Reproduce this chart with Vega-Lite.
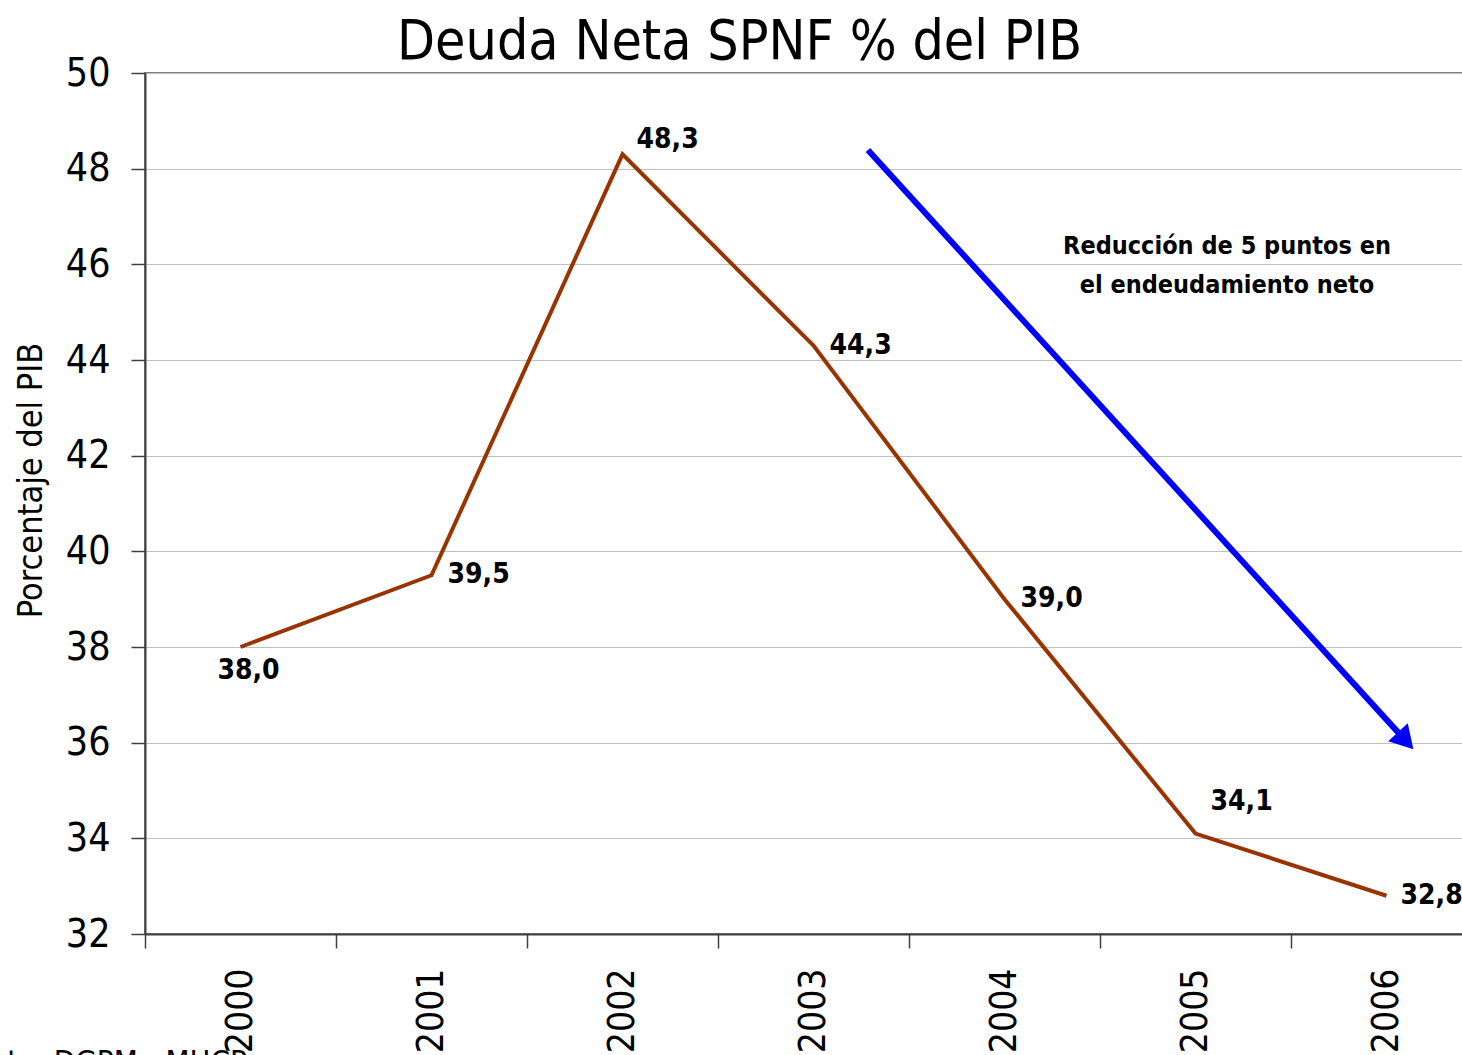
{
  "$schema": "https://vega.github.io/schema/vega-lite/v6.json",
  "width": 1337,
  "height": 861,
  "autosize": "none",
  "padding": {"left": 145, "top": 73, "right": 0, "bottom": 121},
  "background": "white",
  "config": {
    "font": "DejaVu Sans Condensed, Liberation Sans, sans-serif",
    "view": {"stroke": "#808080", "strokeWidth": 2},
    "axis": {"labelFont": "DejaVu Sans Condensed, Liberation Sans, sans-serif", "titleFont": "DejaVu Sans Condensed, Liberation Sans, sans-serif", "labelColor": "black", "titleColor": "black", "titleFontWeight": "normal"},
    "text": {"font": "DejaVu Sans Condensed, Liberation Sans, sans-serif"}
  },
  "title": {
    "text": "Deuda Neta SPNF % del PIB",
    "anchor": "start",
    "frame": "group",
    "dx": 252,
    "offset": -60,
    "baseline": "alphabetic",
    "fontSize": 55,
    "fontWeight": "normal",
    "font": "DejaVu Sans Condensed, Liberation Sans, sans-serif",
    "color": "black"
  },
  "datasets": {
    "serie": [
      {"year": "2000", "value": 38.0, "label": "38,0"},
      {"year": "2001", "value": 39.5, "label": "39,5"},
      {"year": "2002", "value": 48.3, "label": "48,3"},
      {"year": "2003", "value": 44.3, "label": "44,3"},
      {"year": "2004", "value": 39.0, "label": "39,0"},
      {"year": "2005", "value": 34.1, "label": "34,1"},
      {"year": "2006", "value": 32.8, "label": "32,8"}
    ],
    "arrow": [
      {"x": 3.785, "y": 48.39, "x2": 6.587, "y2": 36.10}
    ],
    "note": [
      {"x": 5.665, "y": 46.38, "text": ["Reducción de 5 puntos en", "el endeudamiento neto"]}
    ]
  },
  "layer": [
    {
      "data": {"name": "serie"},
      "encoding": {
        "x": {
          "field": "year",
          "type": "ordinal",
          "scale": {"type": "band", "paddingInner": 0, "paddingOuter": 0},
          "axis": {
            "title": "Fuente: DGPM - MHCP",
            "titleFontSize": 31,
            "titleX": -205,
            "titleY": 137,
            "titleAlign": "left",
            "titleBaseline": "alphabetic",
            "titleAnchor": "start",
            "labelAngle": 270,
            "labelFontSize": 37,
            "labelPadding": 20,
            "tickBand": "extent",
            "tickSize": 14,
            "tickColor": "#404040",
            "tickWidth": 1.5,
            "domainColor": "#404040",
            "domainWidth": 2,
            "grid": false
          }
        },
        "y": {
          "field": "value",
          "type": "quantitative",
          "scale": {"domain": [32, 50], "nice": false, "zero": false},
          "axis": {
            "title": "Porcentaje del PIB",
            "titleFontSize": 34,
            "titleAngle": 270,
            "titleX": -114,
            "titleY": 407,
            "titleAlign": "center",
            "titleBaseline": "middle",
            "values": [32, 34, 36, 38, 40, 42, 44, 46, 48, 50],
            "labelFontSize": 39,
            "labelPadding": 21,
            "tickSize": 14,
            "tickColor": "#404040",
            "tickWidth": 1.5,
            "domainColor": "#404040",
            "domainWidth": 2,
            "grid": true,
            "gridColor": "#c0c0c0",
            "gridWidth": 1
          }
        }
      },
      "layer": [
        {"mark": {"type": "line", "color": "#993300", "strokeWidth": 4}},
        {
          "transform": [{"filter": "indexof(['2001','2003','2004'], datum.year) >= 0"}],
          "mark": {"type": "text", "align": "left", "baseline": "middle", "dx": 16, "dy": 0, "fontSize": 28, "fontWeight": "bold", "color": "black"},
          "encoding": {"text": {"field": "label"}}
        },
        {
          "transform": [{"filter": "datum.year == '2006'"}],
          "mark": {"type": "text", "align": "left", "baseline": "middle", "dx": 14, "dy": 0, "fontSize": 28, "fontWeight": "bold", "color": "black"},
          "encoding": {"text": {"field": "label"}}
        },
        {
          "transform": [{"filter": "datum.year == '2002'"}],
          "mark": {"type": "text", "align": "left", "baseline": "middle", "dx": 14, "dy": -14, "fontSize": 28, "fontWeight": "bold", "color": "black"},
          "encoding": {"text": {"field": "label"}}
        },
        {
          "transform": [{"filter": "datum.year == '2005'"}],
          "mark": {"type": "text", "align": "left", "baseline": "middle", "dx": 15, "dy": -32, "fontSize": 28, "fontWeight": "bold", "color": "black"},
          "encoding": {"text": {"field": "label"}}
        },
        {
          "transform": [{"filter": "datum.year == '2000'"}],
          "mark": {"type": "text", "align": "center", "baseline": "middle", "dx": 8, "dy": 24, "fontSize": 28, "fontWeight": "bold", "color": "black"},
          "encoding": {"text": {"field": "label"}}
        }
      ]
    },
    {
      "layer": [
        {
          "data": {"name": "arrow"},
          "mark": {"type": "rule", "color": "#0000ff", "strokeWidth": 6, "strokeCap": "butt"},
          "encoding": {
            "x": {"field": "x", "type": "quantitative", "scale": {"domain": [0, 7], "nice": false, "zero": false}, "axis": null},
            "y": {"field": "y", "type": "quantitative"},
            "x2": {"field": "x2"},
            "y2": {"field": "y2"}
          }
        },
        {
          "data": {"name": "arrow"},
          "mark": {"type": "point", "shape": "triangle", "filled": true, "color": "#0000ff", "opacity": 1, "size": 700, "angle": 137.7},
          "encoding": {
            "x": {"field": "x2", "type": "quantitative", "scale": {"domain": [0, 7], "nice": false, "zero": false}, "axis": null},
            "y": {"field": "y2", "type": "quantitative"}
          }
        },
        {
          "data": {"name": "note"},
          "mark": {"type": "text", "align": "center", "baseline": "middle", "fontSize": 25, "fontWeight": "bold", "lineHeight": 39, "color": "black"},
          "encoding": {
            "x": {"field": "x", "type": "quantitative", "scale": {"domain": [0, 7], "nice": false, "zero": false}, "axis": null},
            "y": {"field": "y", "type": "quantitative"},
            "text": {"field": "text"}
          }
        }
      ]
    }
  ],
  "resolve": {"scale": {"x": "independent"}, "axis": {"x": "independent"}}
}
